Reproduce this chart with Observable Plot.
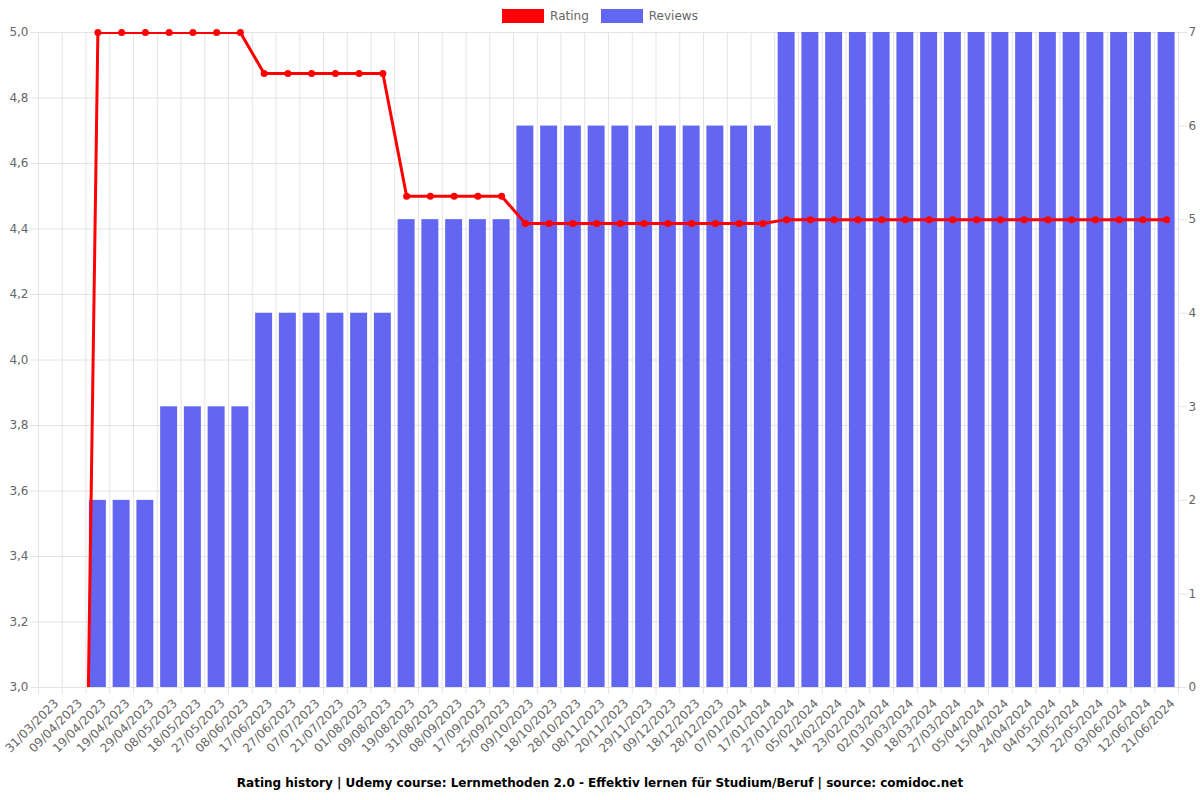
<!DOCTYPE html>
<html><head><meta charset="utf-8">
<script src="https://cdn.jsdelivr.net/npm/d3@7"></script>
<script src="https://cdn.jsdelivr.net/npm/@observablehq/plot@0.6"></script>
<style>
body{margin:0;background:#fff;font-family:"DejaVu Sans",sans-serif;width:1200px;height:800px;overflow:hidden;}
#legend{height:16px;padding-top:8px;display:flex;justify-content:center;align-items:center;font-size:12px;color:#666;}
.item{display:flex;align-items:center;margin:0 6px;}
.box{width:42px;height:14px;margin-right:6px;box-sizing:border-box;}
#title{text-align:center;font-weight:bold;font-size:12px;color:#000;height:31px;line-height:29px;}
</style></head><body>
<div id="legend"></div>
<div id="chart"></div>
<div id="title">Rating history | Udemy course: Lernmethoden 2.0 - Effektiv lernen für Studium/Beruf | source: comidoc.net</div>
<script>
const dates = ["31/03/2023","09/04/2023","19/04/2023","19/04/2023","29/04/2023","08/05/2023","18/05/2023","27/05/2023","08/06/2023","17/06/2023","27/06/2023","07/07/2023","21/07/2023","01/08/2023","09/08/2023","19/08/2023","31/08/2023","08/09/2023","17/09/2023","25/09/2023","09/10/2023","18/10/2023","28/10/2023","08/11/2023","20/11/2023","29/11/2023","09/12/2023","18/12/2023","28/12/2023","07/01/2024","17/01/2024","27/01/2024","05/02/2024","14/02/2024","23/02/2024","02/03/2024","10/03/2024","18/03/2024","27/03/2024","05/04/2024","15/04/2024","24/04/2024","04/05/2024","13/05/2024","22/05/2024","03/06/2024","12/06/2024","21/06/2024"];
const ratings = [0,0,5,5,5,5,5,5,5,4.875,4.875,4.875,4.875,4.875,4.875,4.5,4.5,4.5,4.5,4.5,4.4167,4.4167,4.4167,4.4167,4.4167,4.4167,4.4167,4.4167,4.4167,4.4167,4.4167,4.4286,4.4286,4.4286,4.4286,4.4286,4.4286,4.4286,4.4286,4.4286,4.4286,4.4286,4.4286,4.4286,4.4286,4.4286,4.4286,4.4286];
const reviews = [0,0,2,2,2,3,3,3,3,4,4,4,4,4,4,5,5,5,5,5,6,6,6,6,6,6,6,6,6,6,6,7,7,7,7,7,7,7,7,7,7,7,7,7,7,7,7,7];
const ratingTicks = [3.0,3.2,3.4,3.6,3.8,4.0,4.2,4.4,4.6,4.8,5.0];
const reviewTicks = [0,1,2,3,4,5,6,7];
const series = [{name:"Rating", color:"#ff0000"},{name:"Reviews", color:"#6366f1"}];

const rMin = 3, rMax = 5, revMax = 7;
const toR = v => rMin + v*(rMax-rMin)/revMax;
const idx = d3.range(dates.length);
const bounds = d3.range(dates.length+1).map(i => i-0.5);

const legend = document.getElementById("legend");
for (const s of series) {
  const it = document.createElement("div"); it.className="item";
  const b = document.createElement("div"); b.className="box"; b.style.background=s.color;
  const t = document.createElement("span"); t.textContent=s.name;
  it.append(b,t); legend.append(it);
}

const gridC = "#e4e4e4";
const chart = Plot.plot({
  width: 1200, height: 745,
  marginLeft: 38, marginRight: 22, marginTop: 8, marginBottom: 82,
  style: {fontFamily:"DejaVu Sans, sans-serif", fontSize:"12px", background:"#fff"},
  x: {type:"linear", domain:[-0.5, dates.length-0.5]},
  y: {domain:[rMin, rMax]},
  marks: [
    Plot.gridX(bounds, {stroke: gridC, strokeOpacity: 1}),
    Plot.gridY(ratingTicks, {stroke: gridC, strokeOpacity: 1}),
    Plot.axisX(bounds, {tickSize: 7, tickFormat: () => "", stroke: gridC, label: null}),
    Plot.axisX(idx, {tickSize: 0, tickRotate: -45, tickPadding: 6, dx: 6, dy: 8, tickFormat: i => dates[i], fill: "#666", label: null}),
    Plot.axisY(ratingTicks, {anchor:"left", tickSize: 8, tickFormat: () => "", stroke: gridC, label: null}),
    Plot.axisY(ratingTicks, {anchor:"left", tickSize: 0, tickPadding: 10, tickFormat: v => v.toFixed(1).replace(".", ","), fill:"#666", label: null}),
    Plot.axisY(reviewTicks.map(toR), {anchor:"right", tickSize: 8, tickFormat: () => "", stroke: gridC, label: null}),
    Plot.axisY(reviewTicks.map(toR), {anchor:"right", tickSize: 0, tickPadding: 10, tickFormat: v => String(Math.round((v-rMin)*revMax/(rMax-rMin))), fill:"#666", label: null}),
    Plot.rectY(idx.filter(i => reviews[i] > 0), {x1: i => i-0.5, x2: i => i+0.5, y1: () => rMin, y2: i => toR(reviews[i]), fill: series[1].color, insetLeft: 3.4, insetRight: 3.4}),
    Plot.line(idx, {x: i => i, y: i => ratings[i], stroke: series[0].color, strokeWidth: 3, clip: true}),
    Plot.dot(idx.filter(i => ratings[i] >= rMin), {x: i => i, y: i => ratings[i], r: 3.5, fill: series[0].color})
  ]
});
document.getElementById("chart").append(chart);
</script>
</body></html>
